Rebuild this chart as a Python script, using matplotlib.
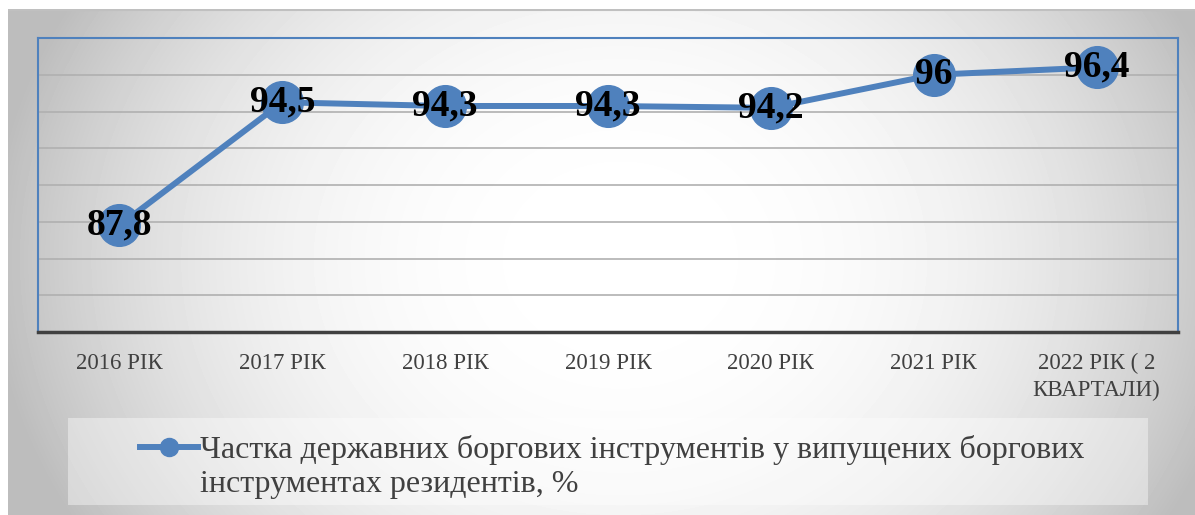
import matplotlib
matplotlib.use('Agg')
import matplotlib.pyplot as plt
from matplotlib.patches import Rectangle
from matplotlib.lines import Line2D
import numpy as np

years = ["2016 РІК", "2017 РІК", "2018 РІК", "2019 РІК", "2020 РІК", "2021 РІК", "2022 РІК ( 2\nКВАРТАЛИ)"]
share = [87.8, 94.5, 94.3, 94.3, 94.2, 96.0, 96.4]
value_labels = ["87,8", "94,5", "94,3", "94,3", "94,2", "96", "96,4"]
series_name = "Частка державних боргових інструментів у випущених боргових\nінструментах резидентів, %"

W, H = 1195, 515
blue = "#4F81BD"
serif = "Liberation Serif"

fig = plt.figure(figsize=(W / 100, H / 100), dpi=100)
fig.patch.set_facecolor("white")

# gradient background of the chart area
bg = fig.add_axes([8 / W, 0, 1 - 8 / W, 1 - 9 / H], zorder=0)
yy, xx = np.mgrid[0:H - 9, 0:W - 8]
r = np.sqrt(((xx - 612) / 600.0) ** 2 + ((yy - 250) / 500.0) ** 2)
grad = np.clip(1 - 0.23 * r ** 2.5, 0.74, 1.0)
bg.imshow(grad, cmap="gray", vmin=0, vmax=1, aspect="auto", interpolation="bilinear")
bg.axhline(0, color="#c0c0c0", lw=1.5)
bg.axis("off")

ax = fig.add_axes([38 / W, 1 - 332 / H, 1140 / W, 294 / H], zorder=2)
ax.patch.set_alpha(0)
x = np.arange(len(years))
ax.plot(x, share, color=blue, lw=4.3, marker="o", markersize=30,
        markerfacecolor=blue, markeredgecolor=blue, zorder=3, clip_on=False)
for xi, v, lab in zip(x, share, value_labels):
    ax.text(xi, v, lab, ha="center", va="center", fontsize=27, fontweight="bold",
            family=serif, color="black", zorder=4)

ax.set_xlim(-0.5, len(years) - 0.5)
ax.set_ylim(82, 98)
ax.set_yticks(np.arange(84, 97, 2))
ax.yaxis.grid(True, color="#b0b0b0", lw=1.2)
ax.tick_params(axis="y", length=0, labelleft=False)
ax.set_xticks(x)
ax.set_xticklabels(years, fontsize=16.5, family=serif, color="#404040", linespacing=1.35)
ax.tick_params(axis="x", length=0, pad=15)
for s in ["left", "top", "right"]:
    ax.spines[s].set_color(blue)
    ax.spines[s].set_linewidth(1.5)
ax.spines["bottom"].set_color("#404040")
ax.spines["bottom"].set_linewidth(2.5)

# legend box
fig.add_artist(Rectangle((68 / W, 1 - 505 / H), 1080 / W, 87 / H, transform=fig.transFigure,
                         facecolor="white", alpha=0.4, edgecolor="none", zorder=3))
fig.add_artist(Line2D([140 / W, 198 / W], [1 - 447 / H, 1 - 447 / H], transform=fig.transFigure,
                      color=blue, lw=4.3, zorder=4))
fig.add_artist(Line2D([169 / W], [1 - 447 / H], transform=fig.transFigure, marker="o",
                      markersize=13, color=blue, zorder=4))
fig.text(200 / W, 1 - 467 / H, series_name, ha="left", va="center", fontsize=23,
         family=serif, color="#404040", linespacing=1.2, zorder=5)

fig.savefig("out.png", dpi=100)
